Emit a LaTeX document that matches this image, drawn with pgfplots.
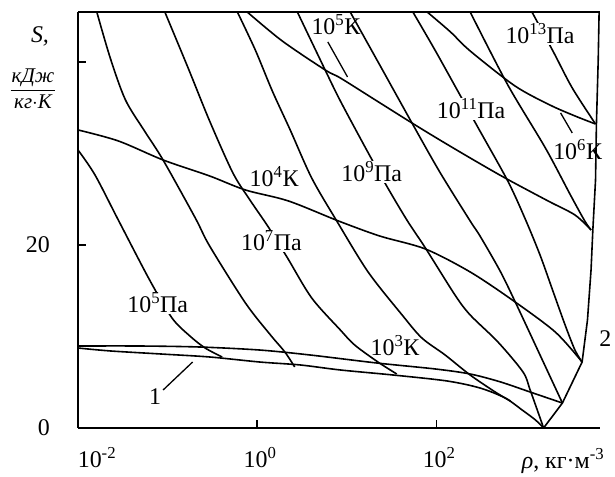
\documentclass[border=0pt]{standalone}
\usepackage{fontspec}
\setmainfont{Liberation Serif}
\usepackage{pgfplots}
\pgfplotsset{compat=1.18}
\begin{document}
\begin{tikzpicture}[font=\fontsize{24}{28}\selectfont]
\useasboundingbox (0,0) rectangle (615bp,477bp);
\begin{axis}[
  at={(78bp,49bp)}, anchor=south west,
  scale only axis, width=522bp, height=416bp,
  xmin=-2, xmax=3.83, ymin=0, ymax=45.46,
  clip=false,
  axis lines=left, axis line style={-, line width=2bp},
  tick align=inside, major tick length=8bp,
  tick style={line width=1.2bp, black},
  xtick={0,2}, xticklabels={10\textsuperscript{0},10\textsuperscript{2}},
  extra x ticks={-2}, extra x tick labels={10\textsuperscript{-2}},
  extra x tick style={xticklabel style={xshift=16bp}},
  xticklabel style={inner sep=0pt, yshift=-19bp, xshift=3bp},
  ytick={0,20,40}, yticklabels={0,20,{}},
  yticklabel style={inner sep=0pt, xshift=-28bp},
  every axis plot/.style={black, line width=1.6bp},
]
% curve 1
\addplot[smooth, tension=0.5] coordinates {(-2.00,8.74) (-1.64,8.42) (-1.08,8.09) (-0.53,7.76) (0.03,7.21) (0.48,6.89) (0.93,6.34) (1.52,5.79) (2.12,5.14) (2.49,4.37) (2.77,3.28) (2.96,1.97) (3.11,0.87) (3.20,0)};
% curve 2
\addplot[sharp plot] coordinates {(3.20,0) (3.41,2.73) (3.63,7.21) (3.69,11.80) (3.73,17.27) (3.75,21.64) (3.78,27.10) (3.79,33.22) (3.81,40.22) (3.82,45.46)};
% isotherms
\addplot[smooth, tension=0.5] coordinates {(-2.00,8.96) (-1.31,8.96) (-0.64,8.85) (0.03,8.52) (0.59,7.98) (1.34,7.10) (1.99,6.45) (2.38,5.90) (2.72,5.03) (3.05,3.93) (3.41,2.73)};
\addplot[smooth, tension=0.5] coordinates {(-2.00,32.57) (-1.55,31.37) (-1.05,29.29) (-0.53,27.54) (-0.13,26.01) (0.35,24.81) (0.91,22.62) (1.37,20.98) (1.88,19.56) (2.38,17.05) (2.85,13.99) (3.33,10.49) (3.63,7.21)};
\addplot[smooth, tension=0.5] coordinates {(-0.11,45.46) (0.28,42.30) (0.76,39.13) (0.93,38.25) (1.32,35.85) (1.73,33.33) (2.04,31.48) (2.38,29.51) (2.77,27.32) (3.25,24.81) (3.55,23.28) (3.73,21.64)};
\addplot[smooth, tension=0.5] coordinates {(1.90,45.46) (2.16,43.28) (2.38,41.20) (2.88,37.38) (3.27,35.30) (3.55,34.10) (3.78,33.22)};
% isobars
\addplot[smooth, tension=0.5] coordinates {(-2.00,30.38) (-1.81,27.65) (-1.55,22.73) (-1.20,16.17) (-0.95,12.02) (-0.75,10.05) (-0.58,8.74) (-0.39,7.76)};
\addplot[smooth, tension=0.5] coordinates {(-1.79,45.46) (-1.64,40.44) (-1.47,35.85) (-1.25,32.35) (-1.05,29.29) (-0.69,22.95) (-0.53,19.89) (-0.13,13.66) (0.15,10.16) (0.31,8.31) (0.42,6.67)};
\addplot[smooth, tension=0.5] coordinates {(-1.03,45.46) (-0.77,39.34) (-0.53,33.55) (-0.27,27.87) (-0.08,24.92) (0.13,21.90) (0.34,18.58) (0.61,14.21) (0.93,10.71) (1.09,9.07) (1.35,7.21) (1.56,5.90)};
\addplot[smooth, tension=0.5] coordinates {(-0.22,45.46) (-0.02,41.31) (0.17,36.83) (0.37,32.57) (0.61,27.32) (0.89,22.62) (1.24,17.05) (1.62,12.35) (1.84,9.84) (2.10,7.98) (2.38,5.79) (2.66,3.93) (2.83,2.95)};
\addplot[smooth, tension=0.5] coordinates {(0.45,45.46) (0.76,39.13) (0.93,35.74) (1.23,30.27) (1.46,26.23) (1.68,22.62) (1.88,19.67) (2.21,14.54) (2.38,12.35) (2.69,9.40) (2.97,6.12) (3.05,4.15) (3.20,0)};
\addplot[smooth, tension=0.5] coordinates {(1.04,45.46) (1.37,39.67) (1.73,33.33) (2.04,27.98) (2.38,22.62) (2.49,20.98) (2.72,17.05) (2.91,13.22) (3.16,7.98) (3.41,2.73)};
\addplot[smooth, tension=0.5] coordinates {(1.74,45.46) (1.98,41.42) (2.21,37.38) (2.47,32.79) (2.80,26.99) (2.99,22.95) (3.16,18.91) (3.30,15.08) (3.44,11.26) (3.55,8.52) (3.63,7.21)};
\addplot[smooth, tension=0.5] coordinates {(2.38,45.46) (2.80,37.49) (3.22,30.60) (3.50,25.46) (3.66,22.62) (3.73,21.64)};
\addplot[smooth, tension=0.5] coordinates {(3.07,45.46) (3.31,41.09) (3.52,37.16) (3.78,33.22)};
% top frame line
\draw[line width=2bp] (rel axis cs:0,1) -- (rel axis cs:1,1);
% leaders
\draw[line width=1.3bp] (axis cs:-1.05,4.15) -- (axis cs:-0.72,7.21);
\draw[line width=1.3bp] (axis cs:0.79,42.19) -- (axis cs:1.01,38.36);
\draw[line width=1.3bp] (axis cs:3.39,34.43) -- (axis cs:3.52,32.24);
% labels
\tikzset{lab/.style={fill=white, inner sep=1bp}}
\node[lab] at (axis cs:-1.11,13.66) {10\textsuperscript{5}Па};
\node[lab] at (axis cs:0.16,20.44) {10\textsuperscript{7}Па};
\node[lab] at (axis cs:1.28,27.98) {10\textsuperscript{9}Па};
\node[lab] at (axis cs:2.39,34.86) {10\textsuperscript{11}Па};
\node[lab] at (axis cs:3.16,43.06) {10\textsuperscript{13}Па};
\node[inner sep=1bp] at (axis cs:0.88,44.04) {10\textsuperscript{5}К};
\node[inner sep=1bp] at (axis cs:3.58,30.38) {10\textsuperscript{6}К};
\node[inner sep=1bp] at (axis cs:0.19,27.43) {10\textsuperscript{4}К};
\node[inner sep=1bp] at (axis cs:1.54,8.96) {10\textsuperscript{3}К};
\node at (axis cs:-1.14,3.39) {1};
\node at (axis cs:3.89,9.73) {2};
\end{axis}
\node at (40bp,441bp) {\itshape S,};
\node[font=\fontsize{21}{26}\selectfont\itshape] at (33bp,387bp) {\setlength{\tabcolsep}{1bp}\begin{tabular}{c}кДж\\\hline кг$\cdot$К\end{tabular}};
\node at (563bp,16bp) {{\itshape ρ}, кг·м\textsuperscript{-3}};
\end{tikzpicture}
\end{document}
